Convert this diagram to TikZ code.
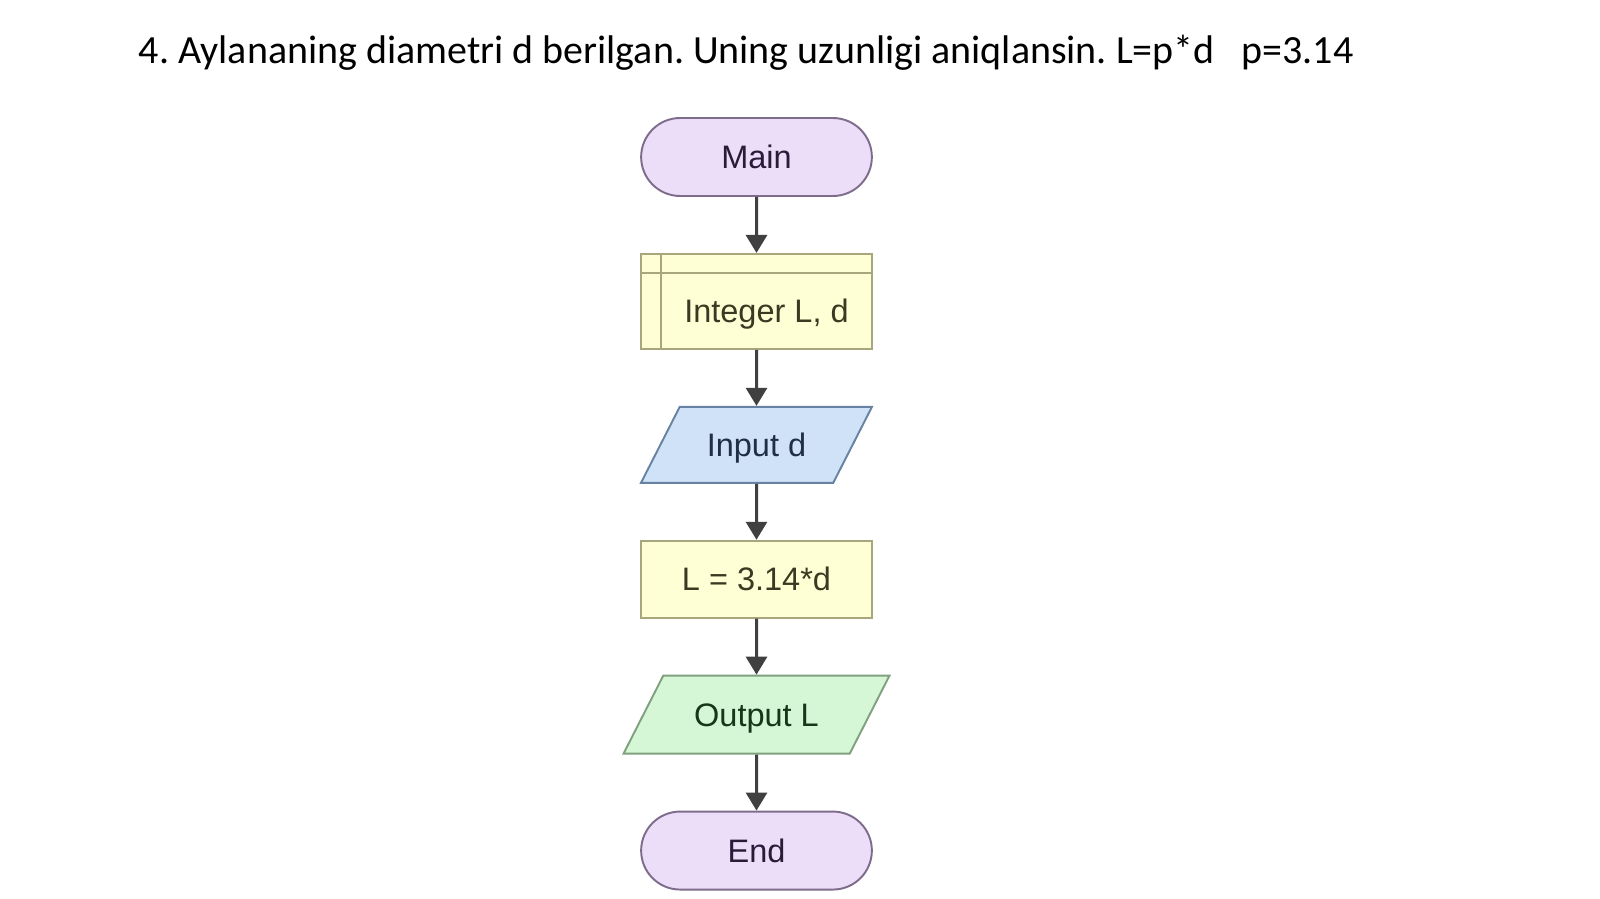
\documentclass[tikz,border=0pt]{standalone}
\usepackage{fontspec}
\setsansfont{Liberation Sans}
\newfontfamily\titlefont{Carlito}
\usetikzlibrary{shapes.geometric, shapes.misc, arrows.meta, positioning}
\definecolor{termfill}{HTML}{ECDDF8}
\definecolor{termline}{HTML}{7E6C8C}
\definecolor{termtext}{HTML}{2B1B3B}
\definecolor{procfill}{HTML}{FFFFD6}
\definecolor{procline}{HTML}{A8A67C}
\definecolor{proctext}{HTML}{3A3A22}
\definecolor{infill}{HTML}{CFE2F8}
\definecolor{inline}{HTML}{6882A2}
\definecolor{intext}{HTML}{1F2F46}
\definecolor{outfill}{HTML}{D5F7D5}
\definecolor{outline}{HTML}{80A080}
\definecolor{outtext}{HTML}{183618}
\definecolor{arrowgray}{HTML}{404040}
\tikzstyle{startstop} = [rounded rectangle, minimum width=4.85cm, minimum height=1.56cm, draw=termline, fill=termfill, text=termtext]
\tikzstyle{decl} = [rectangle, minimum width=4.62cm, minimum height=1.9cm, draw=procline, fill=procfill, text=proctext, text height=0.86cm,
  path picture={\draw[procline, line width=1.1pt] ([xshift=0.4cm]path picture bounding box.north west) -- ([xshift=0.4cm]path picture bounding box.south west);
    \draw[procline, line width=1.1pt] ([yshift=-0.38cm]path picture bounding box.north west) -- ([yshift=-0.38cm]path picture bounding box.north east);}]
\tikzstyle{process} = [rectangle, minimum width=4.62cm, minimum height=1.54cm, draw=procline, fill=procfill, text=proctext]
\tikzstyle{io} = [trapezium, trapezium left angle=63, trapezium right angle=117, trapezium stretches body=true, inner ysep=0.53cm, minimum width=4.62cm]
\tikzstyle{arrow} = [line width=1.7pt, draw=arrowgray, -{Triangle[length=0.36cm, width=0.42cm]}]

\begin{document}
\begin{tikzpicture}[x=0.02cm, y=-0.02cm, node distance=1.12cm,
    every node/.style={font=\sffamily\fontsize{18.5}{22}\selectfont, line width=1.1pt, text height=0.46cm, text depth=0pt}]
    \useasboundingbox (0,0) rectangle (1600,899);
    \node (title) [anchor=base west, inner sep=0pt, font=\titlefont\fontsize{22.75}{28}\selectfont\frenchspacing] at (138,63)
        {4. Aylananing diametri d berilgan. Uning uzunligi aniqlansin. L=p*d\ \ \ p=3.14};

    \node (main) [startstop] at (756.5,157) {Main};
    \node (vars) [decl, below=of main] {\hspace*{0.4cm}Integer L, d};
    \node (input) [io, below=of vars, draw=inline, fill=infill, text=intext] {Input d};
    \node (calc) [process, below=of input] {L = 3.14*d};
    \node (output) [io, below=of calc, minimum width=5.32cm, inner ysep=0.55cm, draw=outline, fill=outfill, text=outtext] {Output L};
    \node (end) [startstop, below=of output] {End};

    \draw [arrow] (main) -- (vars);
    \draw [arrow] (vars) -- (input);
    \draw [arrow] (input) -- (calc);
    \draw [arrow] (calc) -- (output);
    \draw [arrow] (output) -- (end);
\end{tikzpicture}
\end{document}
